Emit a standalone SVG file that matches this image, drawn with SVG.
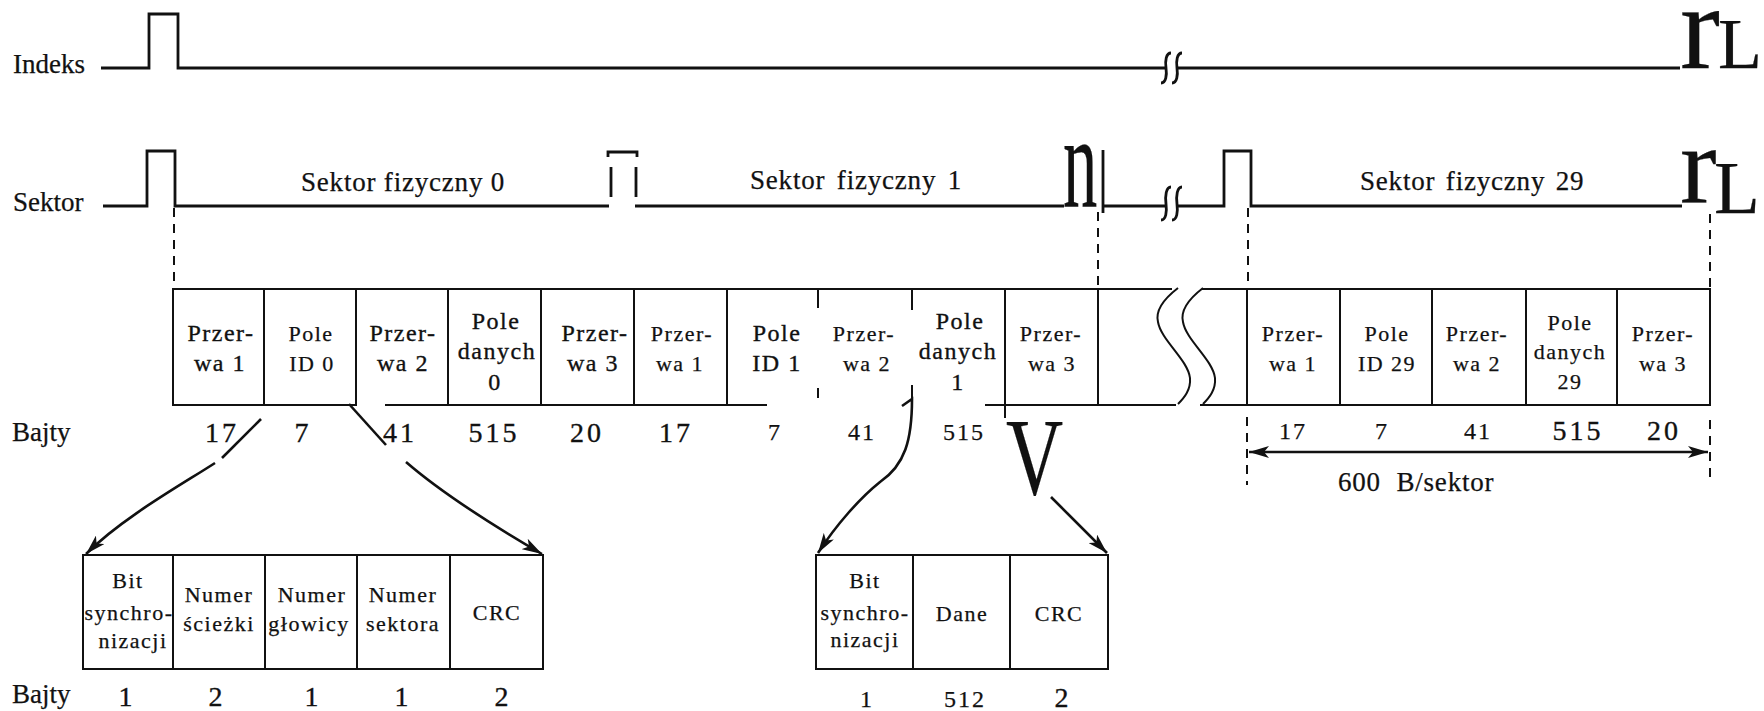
<svg xmlns="http://www.w3.org/2000/svg" width="1764" height="711" viewBox="0 0 1764 711" font-family="'Liberation Serif', 'Times New Roman', Times, 'DejaVu Serif', serif">
<defs>
<style>
text{font-family:'Liberation Serif','Times New Roman',Times,'DejaVu Serif',serif;fill:#111;stroke:#111;stroke-width:0.25}
.lbl{font-size:27px}
.sf{font-size:27px;letter-spacing:0.8px}
.bx{font-size:24px;letter-spacing:1.5px;text-anchor:middle;stroke-width:0.35}
.bs{font-size:22px;letter-spacing:1.5px;text-anchor:middle}
.n{font-size:28px;letter-spacing:3px;text-anchor:middle;stroke-width:0.35}
.ns{font-size:24px;letter-spacing:2px;text-anchor:middle}
.w{stroke:#111;stroke-width:2.8;fill:none}
.b{stroke:#111;stroke-width:2;fill:none}
.d{stroke:#111;stroke-width:2;fill:none;stroke-dasharray:9 7}
.a{stroke:#111;stroke-width:2.6;fill:none}
</style>
<marker id="ah" markerUnits="userSpaceOnUse" markerWidth="22" markerHeight="12" refX="20" refY="6" orient="auto-start-reverse"><path d="M0,0 L20,6 L0,12 L5,6 z" fill="#111"/></marker>
</defs>
<rect width="1764" height="711" fill="#fff"/>

<g id="indeks">
<text class="lbl" x="13" y="73">Indeks</text>
<path class="w" d="M101,68 H149 V14 H178 V68 H1166"/>
<path class="w" d="M1177,68 H1680"/>
<path class="w" d="M1171,53 C1166,53 1165,61 1166,68 C1167,75 1166,83 1161,83 M1182,53 C1177,53 1176,61 1177,68 C1178,75 1177,83 1172,83"/>
<text x="1680" y="68" font-size="120">r</text>
<text x="1718" y="68" font-size="72">L</text>
</g>

<g id="sektor">
<text class="lbl" x="13" y="211">Sektor</text>
<path class="w" d="M103,206 H147 V151 H175 V206 H609"/>
<path class="w" d="M635,206 H1064"/>
<path class="w" d="M608,157 V152 H637 V157 M611,167 V197 M636,167 V197"/>
<text transform="translate(1063,206) scale(0.52,1)" font-size="132">n</text>
<path class="w" d="M1103,150 V213 M1103,206 H1166"/>
<path class="w" d="M1171,187 C1166,187 1165,196 1166,204 C1167,212 1166,220 1161,220 M1182,187 C1177,187 1176,196 1177,204 C1178,212 1177,220 1172,220"/>
<path class="w" d="M1177,206 H1224 V151 H1251 V206 H1682"/>
<text x="1680" y="202" font-size="110">r</text>
<text x="1714" y="213" font-size="75">L</text>
<text class="sf" x="301" y="191">Sektor fizyczny 0</text>
<text class="sf" x="750" y="189" word-spacing="4">Sektor fizyczny 1</text>
<text class="sf" x="1360" y="190" word-spacing="3">Sektor fizyczny 29</text>
</g>

<g id="c1"><rect class="b" x="173" y="289" width="91" height="116"/><text class="bx" x="221" y="341">Przer-</text><text class="bx" x="220" y="371">wa 1</text></g>
<g id="c2"><rect class="b" x="264" y="289" width="92" height="116"/><text class="bs" x="311" y="341">Pole</text><text class="bs" x="312" y="371">ID 0</text></g>
<g id="c3"><path class="b" d="M356,289 H448 V405 H385"/><text class="bx" x="403" y="341">Przer-</text><text class="bx" x="403" y="371">wa 2</text></g>
<g id="c4"><rect class="b" x="448" y="289" width="93" height="116"/><text class="bx" x="496" y="329">Pole</text><text class="bx" x="497" y="359">danych</text><text class="bx" x="495" y="390">0</text></g>
<g id="c5"><rect class="b" x="541" y="289" width="93" height="116"/><text class="bx" x="595" y="341">Przer-</text><text class="bx" x="593" y="371">wa 3</text></g>
<g id="c6"><rect class="b" x="634" y="289" width="93" height="116"/><text class="bs" x="682" y="341">Przer-</text><text class="bs" x="680" y="371">wa 1</text></g>
<g id="c7"><path class="b" d="M767,405 H727 V289 H818 V308 M818,388 V398"/><text class="bx" x="777" y="341">Pole</text><text class="bx" x="777" y="371">ID 1</text></g>
<g id="c8"><path class="b" d="M818,289 H912 V310 M912,385 V398"/><text class="bs" x="864" y="341">Przer-</text><text class="bs" x="867" y="371">wa 2</text></g>
<g id="c9"><path class="b" d="M912,289 H1005 V418 M985,405 H1005"/><text class="bx" x="960" y="329">Pole</text><text class="bx" x="958" y="359">danych</text><text class="bx" x="958" y="390">1</text></g>
<g id="c10"><rect class="b" x="1005" y="289" width="93" height="116"/><text class="bs" x="1051" y="341">Przer-</text><text class="bs" x="1052" y="371">wa 3</text></g>
<g id="c11"><path class="b" d="M1098,289 H1172 M1098,405 H1176 M1202,289 H1247 M1200,405 H1247"/><path class="b" d="M1178,288 C1165,298 1155,310 1158,322 C1161,340 1188,360 1190,378 C1191,390 1184,398 1178,404 M1203,288 C1190,298 1180,310 1183,322 C1186,340 1213,360 1215,378 C1216,390 1209,398 1203,404"/></g>
<g id="c12"><rect class="b" x="1247" y="289" width="93" height="116"/><text class="bs" x="1293" y="341">Przer-</text><text class="bs" x="1293" y="371">wa 1</text></g>
<g id="c13"><rect class="b" x="1340" y="289" width="92" height="116"/><text class="bs" x="1387" y="341">Pole</text><text class="bs" x="1387" y="371">ID 29</text></g>
<g id="c14"><rect class="b" x="1432" y="289" width="94" height="116"/><text class="bs" x="1477" y="341">Przer-</text><text class="bs" x="1477" y="371">wa 2</text></g>
<g id="c15"><rect class="b" x="1526" y="289" width="91" height="116"/><text class="bs" x="1570" y="330">Pole</text><text class="bs" x="1570" y="359">danych</text><text class="bs" x="1570" y="389">29</text></g>
<g id="c16"><rect class="b" x="1617" y="289" width="93" height="116"/><text class="bs" x="1663" y="341">Przer-</text><text class="bs" x="1663" y="371">wa 3</text></g>

<g id="bajty">
<text class="lbl" x="12" y="441">Bajty</text>
<text class="n" x="222" y="442">17</text>
<text class="n" x="303" y="442">7</text>
<text class="n" x="400" y="442">41</text>
<text class="n" x="494" y="442">515</text>
<text class="n" x="587" y="442">20</text>
<text class="n" x="676" y="442">17</text>
<text class="ns" x="775" y="440">7</text>
<text class="ns" x="862" y="440">41</text>
<text class="ns" x="964" y="440">515</text>
<text class="ns" x="1293" y="439" font-size="26">17</text>
<text class="ns" x="1382" y="439" font-size="26">7</text>
<text class="ns" x="1478" y="439" font-size="26">41</text>
<text class="n" x="1578" y="440">515</text>
<text class="n" x="1664" y="440" font-size="30">20</text>
<text class="sf" x="1338" y="491" word-spacing="8">600 B/sektor</text>
</g>

<g id="id-sync"><rect class="b" x="83" y="555" width="90" height="114"/><text class="bs" x="128" y="588">Bit</text><text class="bs" x="129" y="620">synchro-</text><text class="bs" x="133" y="648">nizacji</text></g>
<g id="id-track"><rect class="b" x="173" y="555" width="92" height="114"/><text class="bs" x="219" y="602">Numer</text><text class="bs" x="219" y="631">ścieżki</text></g>
<g id="id-head"><rect class="b" x="265" y="555" width="92" height="114"/><text class="bs" x="312" y="602">Numer</text><text class="bs" x="309" y="631">głowicy</text></g>
<g id="id-sector"><rect class="b" x="357" y="555" width="93" height="114"/><text class="bs" x="403" y="602">Numer</text><text class="bs" x="403" y="631">sektora</text></g>
<g id="id-crc"><rect class="b" x="450" y="555" width="93" height="114"/><text class="bs" x="497" y="620" font-size="24">CRC</text></g>

<g id="d-sync"><rect class="b" x="816" y="555" width="97" height="114"/><text class="bs" x="865" y="588">Bit</text><text class="bs" x="865" y="620">synchro-</text><text class="bs" x="865" y="647">nizacji</text></g>
<g id="d-data"><rect class="b" x="913" y="555" width="97" height="114"/><text class="bs" x="962" y="621" font-size="24">Dane</text></g>
<g id="d-crc"><rect class="b" x="1010" y="555" width="98" height="114"/><text class="bs" x="1059" y="621" font-size="24">CRC</text></g>

<g id="bajty2">
<text class="lbl" x="12" y="703">Bajty</text>
<text class="n" x="127" y="706">1</text>
<text class="n" x="217" y="706">2</text>
<text class="n" x="313" y="706">1</text>
<text class="n" x="403" y="706">1</text>
<text class="n" x="503" y="706">2</text>
<text class="ns" x="867" y="707">1</text>
<text class="ns" x="965" y="707">512</text>
<text class="n" x="1063" y="707">2</text>
</g>

<g id="connectors">
<path class="d" d="M174,208 V289 M1098,212 V289 M1248,208 V289 M1710,214 V289"/>
<path class="d" d="M1247,417 V485 M1710,420 V483"/>
<path class="a" d="M1249,452 H1708" marker-start="url(#ah)" marker-end="url(#ah)"/>
<path class="a" d="M261,419 L222,458"/>
<path class="a" d="M215,463 C181,485 122,518 86,554" marker-end="url(#ah)"/>
<path class="a" d="M349,404 L386,445"/>
<path class="a" d="M406,462 Q451,501 542,554" marker-end="url(#ah)"/>
<path class="a" d="M902,406 L912,399 C912,440 905,465 880,482 C860,498 836,525 818,553" marker-end="url(#ah)"/>
<text transform="translate(1006,494) scale(0.72,1)" font-size="110">V</text>
<path class="a" d="M1051,497 L1107,553" marker-end="url(#ah)"/>
</g>
</svg>
